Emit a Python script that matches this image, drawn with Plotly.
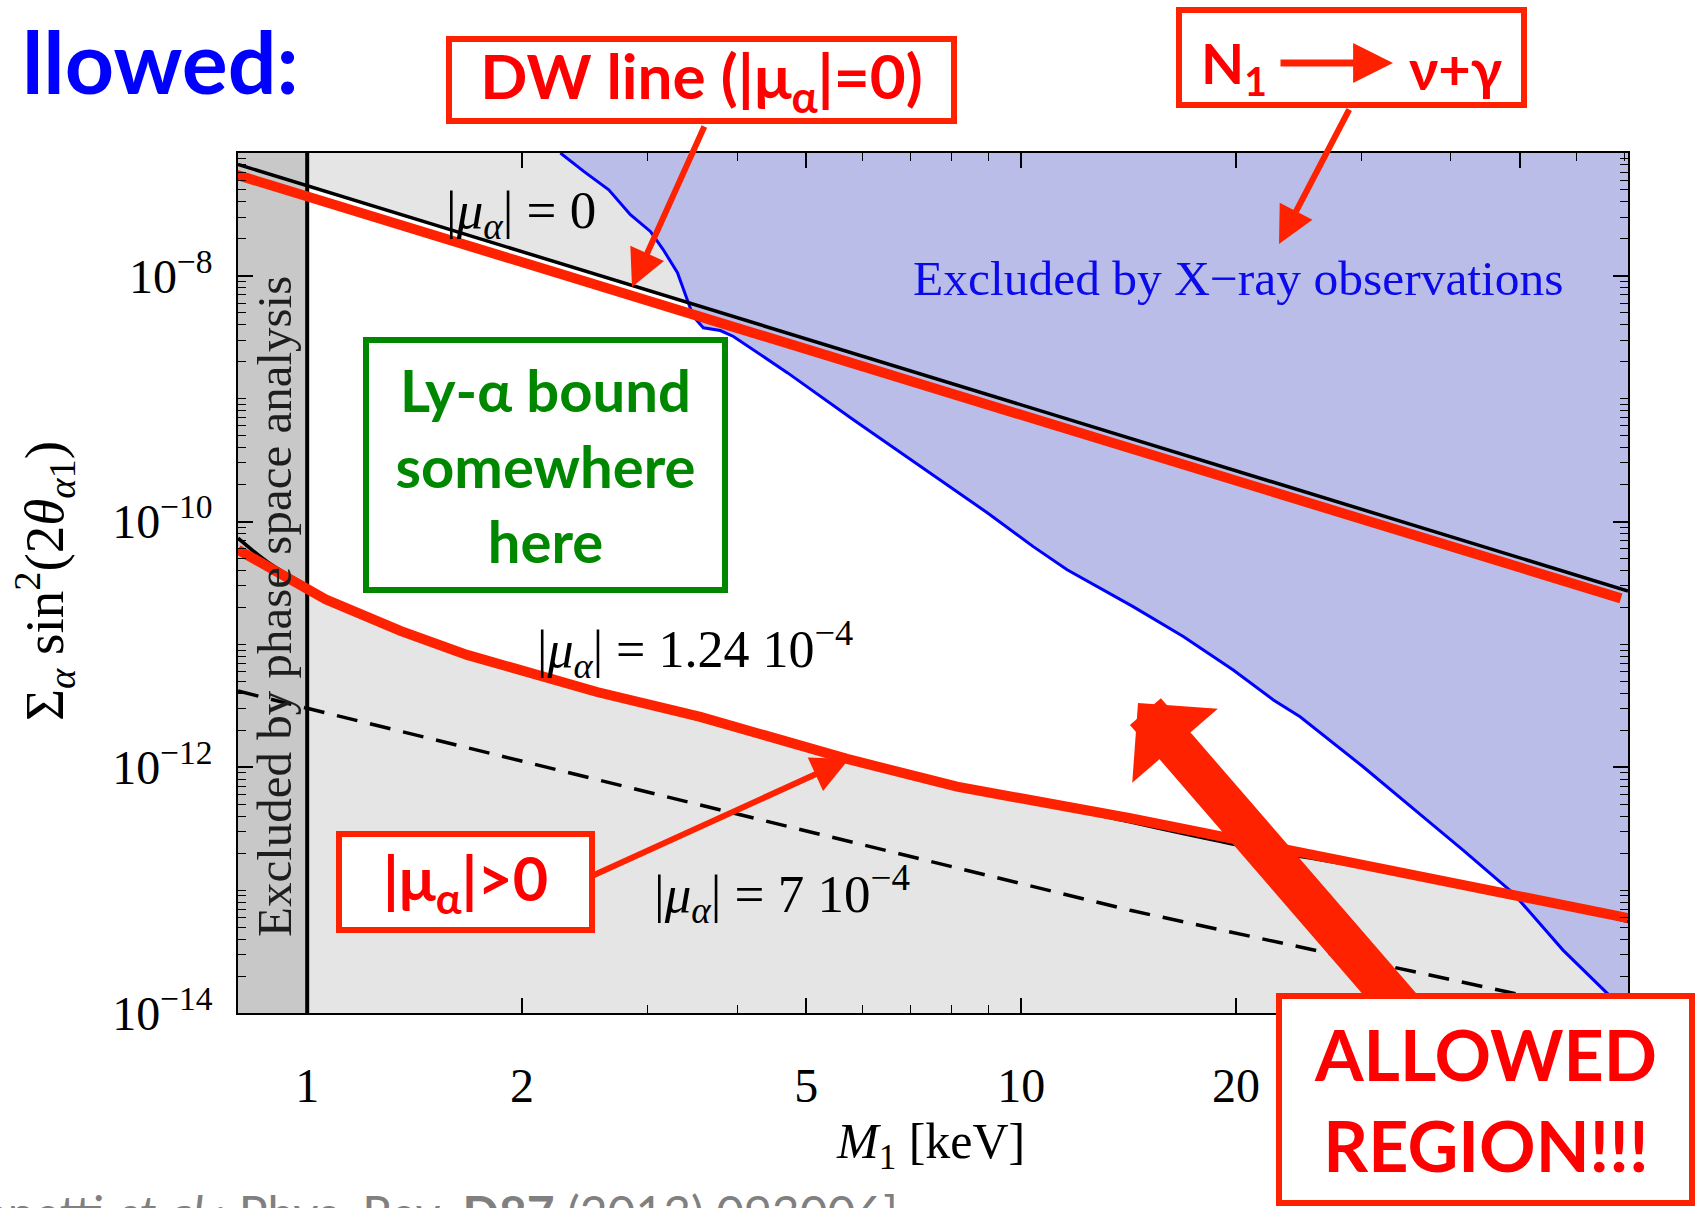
import math
import plotly.graph_objects as go

# ---------------- data ----------------
M_MIN, M_MAX = 0.8, 70.8          # keV, x range
S_MIN, S_MAX = 1e-14, 1e-7        # y range
PHASE_SPACE_M = 1.0               # phase-space bound [keV]

# |mu_alpha| = 0  (Dodelson-Widrow line)
dw_M = [0.8, 70.8]
dw_S = [8.06e-8, 2.72e-11]

# |mu_alpha| = 1.24e-4
mu124_M = [0.80, 0.879, 1.0, 1.067, 1.351, 1.675, 2.077, 2.547, 3.554, 5.704, 8.131, 11.34, 19.62, 48.39, 70.8]
mu124_S = [7.33e-11, 4.72e-11, 2.96e-11, 2.30e-11, 1.23e-11, 7.96e-12, 5.47e-12, 4.05e-12,
           2.43e-12, 1.15e-12, 6.95e-13, 4.78e-13, 2.40e-13, 9.42e-14, 5.55e-14]

# |mu_alpha| = 7e-4 (dashed)
mu7_M = [0.80, 1.0, 3.554, 11.34, 14.22, 47.88, 65.4]
mu7_S = [4.18e-12, 3.02e-12, 4.93e-13, 9.42e-14, 6.85e-14, 1.49e-14, 1.0e-14]

# X-ray exclusion boundary
xray_M = [2.263, 2.440, 2.645, 2.836, 3.025, 3.154, 3.301, 3.408, 3.474, 3.588, 3.791, 3.954,
          4.704, 5.821, 7.223, 8.966, 10.40, 11.60, 14.35, 16.87, 19.82, 22.56, 24.59, 30.13,
          37.03, 41.59, 48.87, 57.41, 66.17, 70.8]
xray_S = [1.0e-7, 7.08e-8, 5.02e-8, 3.15e-8, 2.30e-8, 1.63e-8, 1.06e-8, 6.38e-9, 4.67e-9, 3.78e-9,
          3.59e-9, 3.21e-9, 1.63e-9, 6.73e-10, 2.81e-10, 1.18e-10, 6.25e-11, 4.05e-11, 2.03e-11,
          1.16e-11, 6.19e-12, 3.53e-12, 2.58e-12, 1.01e-12, 3.72e-13, 2.12e-13, 9.46e-14, 3.25e-14,
          1.45e-14, 1.0e-14]

# hand-drawn red overlays
red_dw_M = [0.796, 69.2]
red_dw_S = [6.65e-8, 2.37e-11]
red_mu_M = [0.80, 1.061, 1.351, 1.675, 2.547, 3.554, 5.704, 8.131, 14.22, 70.8]
red_mu_S = [5.89e-11, 2.33e-11, 1.29e-11, 8.22e-12, 4.10e-12, 2.57e-12, 1.17e-12, 6.95e-13, 3.85e-13, 5.93e-14]

# ticks
x_tick_vals = [1, 2, 5, 10, 20, 50]
x_tick_text = ["1", "2", "5", "10", "20", "50"]
x_minor_vals = [3, 4, 6, 7, 8, 9, 30, 40, 60, 70]
y_tick_vals = [1e-14, 1e-12, 1e-10, 1e-8]
y_tick_text = ["10<sup>−14</sup>", "10<sup>−12</sup>", "10<sup>−10</sup>", "10<sup>−8</sup>"]
y_minor_vals = [d * 10.0 ** e for e in range(-14, -7) for d in range(2, 10)] + [1e-13, 1e-11, 1e-9]

# ---------------- styling ----------------
W, H = 1700, 1208
L, R, T, B = 238, 72, 153, 195
PW, PH = W - L - R, H - T - B

LIGHT = "rgb(229,229,229)"
STRIP = "rgb(200,200,200)"
XFILL = "rgb(187,189,233)"
RED_LINE = "rgb(255,34,0)"
RED_TXT = "rgb(255,0,0)"
GREEN = "rgb(0,135,0)"
SERIF = "Liberation Serif"
SANS = "Lato"


def fx(px):
    return (px - L) / PW


def fy(py):
    return (H - B - py) / PH


fig = go.Figure()

# white allowed band between |mu|=0 and |mu|=1.24e-4
fig.add_trace(go.Scatter(x=dw_M + mu124_M[::-1], y=dw_S + mu124_S[::-1], fill="toself",
                         fillcolor="white", mode="lines", line=dict(width=0), hoverinfo="skip"))
# X-ray excluded region
fig.add_trace(go.Scatter(x=xray_M + [M_MAX], y=xray_S + [S_MAX], fill="toself",
                         fillcolor=XFILL, mode="lines", line=dict(width=0), hoverinfo="skip"))
# phase-space excluded strip
fig.add_trace(go.Scatter(x=[M_MIN, PHASE_SPACE_M, PHASE_SPACE_M, M_MIN],
                         y=[S_MIN, S_MIN, S_MAX, S_MAX], fill="toself",
                         fillcolor=STRIP, mode="lines", line=dict(width=0), hoverinfo="skip"))
# curves
fig.add_trace(go.Scatter(x=xray_M, y=xray_S, mode="lines", line=dict(color="blue", width=3)))
fig.add_trace(go.Scatter(x=dw_M, y=dw_S, mode="lines", line=dict(color="black", width=3.5)))
fig.add_trace(go.Scatter(x=mu124_M, y=mu124_S, mode="lines",
                         line=dict(color="black", width=3.5, shape="spline")))
fig.add_trace(go.Scatter(x=mu7_M, y=mu7_S, mode="lines",
                         line=dict(color="black", width=3.5, dash="21px,13px")))
fig.add_trace(go.Scatter(x=[PHASE_SPACE_M, PHASE_SPACE_M], y=[S_MIN, S_MAX], mode="lines",
                         line=dict(color="black", width=4)))
# red overlays
fig.add_trace(go.Scatter(x=red_dw_M, y=red_dw_S, mode="lines", line=dict(color=RED_LINE, width=10)))
fig.add_trace(go.Scatter(x=red_mu_M, y=red_mu_S, mode="lines", line=dict(color=RED_LINE, width=10)))

axis_common = dict(type="log", showgrid=False, zeroline=False, ticks="inside", ticklen=15,
                   tickwidth=1.5, tickcolor="black", showline=True, linecolor="black",
                   linewidth=1.5, mirror="allticks",
                   tickfont=dict(family=SERIF, size=48, color="black"))

fig.update_layout(
    width=W, height=H, showlegend=False,
    margin=dict(l=L, r=R, t=T, b=B, autoexpand=False),
    paper_bgcolor="white", plot_bgcolor=LIGHT,
    xaxis=dict(range=[math.log10(M_MIN), math.log10(M_MAX)], tickmode="array",
               tickvals=x_tick_vals, ticktext=x_tick_text, ticklabelstandoff=30,
               minor=dict(tickmode="array", tickvals=x_minor_vals, ticks="inside", ticklen=8,
                          tickwidth=1.2, tickcolor="black", showgrid=False),
               **axis_common),
    yaxis=dict(range=[math.log10(S_MIN), math.log10(S_MAX)], tickmode="array",
               tickvals=y_tick_vals, ticktext=y_tick_text, ticklabelstandoff=14,
               minor=dict(tickmode="array", tickvals=y_minor_vals, ticks="inside", ticklen=8,
                          tickwidth=1.2, tickcolor="black", showgrid=False),
               **axis_common),
)


def text(px, py, s, size, color="black", family=SERIF, angle=0, xanchor="center", yanchor="middle"):
    fig.add_annotation(x=fx(px), y=fy(py), xref="paper", yref="paper", text=s, showarrow=False,
                       font=dict(family=family, size=size, color=color), textangle=angle,
                       xanchor=xanchor, yanchor=yanchor)


def arrow(tip, tail, width, size, head=2, color=RED_LINE):
    fig.add_annotation(x=fx(tip[0]), y=fy(tip[1]), xref="paper", yref="paper",
                       ax=tail[0] - tip[0], ay=tail[1] - tip[1], axref="pixel", ayref="pixel",
                       text="", showarrow=True, arrowhead=head, arrowsize=size,
                       arrowwidth=width, arrowcolor=color, standoff=0, startstandoff=0)


def box(x0, y0, x1, y1, s, color, border, size, bw=6):
    fig.add_annotation(x=fx(x0), y=fy(y0), xref="paper", yref="paper", xanchor="left",
                       yanchor="top", showarrow=False, text=s,
                       font=dict(family=SANS, size=size, color=color),
                       bgcolor="white", bordercolor=border, borderwidth=bw, borderpad=0,
                       width=(x1 - x0) - 2 * bw, height=(y1 - y0) - 2 * bw,
                       align="center", valign="middle")


# plot labels (serif)
text(521, 214, "|<i>μ</i><sub><i>α</i></sub>| = 0", 53)
text(695, 649, "|<i>μ</i><sub><i>α</i></sub>| = 1.24 10<sup>−4</sup>", 52)
text(782, 894, "|<i>μ</i><sub><i>α</i></sub>| = 7 10<sup>−4</sup>", 53)
text(1238, 278, "Excluded by X−ray observations", 49.5, color="rgb(10,10,235)")
text(274, 607, "Excluded by phase space analysis", 49, color="rgb(30,30,30)", angle=-90)

# axis titles
text(930, 1145, "<i>M</i><sub>1</sub> [keV]", 50)
text(44, 581, "Σ<sub><i>α</i></sub> sin<sup>2</sup>(2<i>θ</i><sub><i>α</i>1</sub>)", 55, angle=-90)

# slide decorations
text(301, 60, "<b>llowed:</b>", 86, color="rgb(0,0,255)", family=SANS, xanchor="right")
text(900, 1182, "[L. Canetti <i>et al.</i>: Phys. Rev. <b>D87</b> (2013) 093006]", 48,
     color="rgb(128,128,128)", family=SANS, xanchor="right", yanchor="top")

# arrows + boxes
arrow((632, 287), (705, 125), 6, 1.23)
box(446, 36, 957, 124, "<b>DW line (|μ<sub>α</sub>|=0)</b>", RED_TXT, RED_LINE, 62)

arrow((1279, 244), (1350, 108), 6, 1.23)
box(1176, 7, 1527, 108, " ", RED_TXT, RED_LINE, 56)
text(1234, 66, "<b>N<sub>1</sub></b>", 56, color=RED_TXT, family=SANS)
text(1455, 68, "<b>ν+γ</b>", 56, color=RED_TXT, family=SANS)
arrow((1393, 63), (1279, 63), 7, 1.14)

box(363, 337, 728, 593, "<b>Ly-α bound<br>somewhere<br>here</b>", GREEN, GREEN, 58)

arrow((849, 759), (592, 876), 6, 1.23)
box(336, 831, 595, 933, "<b>|μ<sub>α</sub>|>0</b>", RED_TXT, RED_LINE, 61)

arrow((1138, 703), (1413, 1021), 41, 0.46, head=1)
box(1276, 993, 1695, 1206, "<b>ALLOWED<br>REGION!!!</b>", RED_TXT, RED_LINE, 70)

fig.write_html("out.html")
